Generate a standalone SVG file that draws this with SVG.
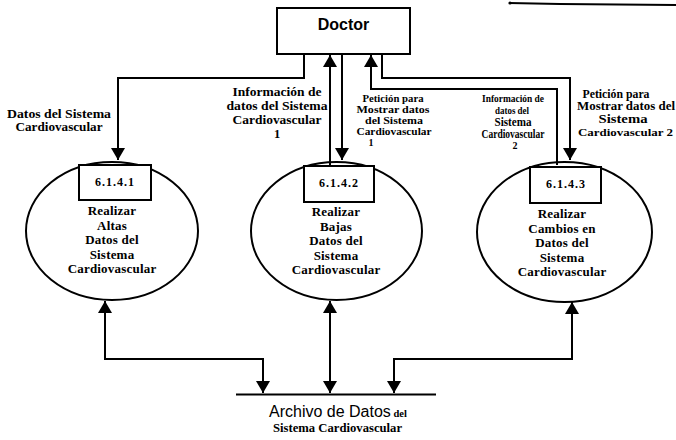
<svg xmlns="http://www.w3.org/2000/svg" width="676" height="440" viewBox="0 0 676 440">
  <style>
    .line { fill: none; stroke: #000; stroke-width: 2; }
    .shape { fill: none; stroke: #000; stroke-width: 2; }
    .box { fill: #fff; stroke: #000; stroke-width: 2; }
    .t { font-family: "Liberation Serif", "Times New Roman", serif; font-weight: bold; text-anchor: middle; fill: #000; }
    .proc { font-size: 13px; letter-spacing: 0.2px; }
    .num { font-size: 12px; letter-spacing: 1px; }
    .flow { font-size: 12.5px; }
    .small { font-size: 10px; }
  </style>
  <defs>
    <marker id="arrow" viewBox="0 0 12 14" refX="12" refY="7" markerWidth="12" markerHeight="14" markerUnits="userSpaceOnUse" orient="auto-start-reverse">
      <path d="M0,0 L12,7 L0,14 z" fill="#000"/>
    </marker>
  </defs>

  <rect width="676" height="440" fill="#fff"/>

  <!-- stray line at the top right edge -->
  <path d="M509,3 L560,4 L676,5" stroke="#000" stroke-width="2.2" fill="none"/>
  <circle cx="510" cy="3" r="1.6" fill="#000"/>

  <!-- external entity -->
  <g id="doctor">
    <rect class="box" x="277" y="8" width="133" height="46"/>
    <text x="343.5" y="30" font-family="Liberation Sans, Arial, sans-serif" font-weight="bold" font-size="16" text-anchor="middle">Doctor</text>
  </g>

  <!-- processes -->
  <g id="p6141">
    <ellipse class="shape" cx="112" cy="231" rx="86" ry="69"/>
    <rect class="box" x="79" y="165" width="72" height="35"/>
    <text class="t num" x="115" y="186">6.1.4.1</text>
    <text class="t proc" x="112" y="215">Realizar</text>
    <text class="t proc" x="112" y="229.5">Altas</text>
    <text class="t proc" x="112" y="244">Datos del</text>
    <text class="t proc" x="112" y="258.5">Sistema</text>
    <text class="t proc" x="112" y="273">Cardiovascular</text>
  </g>

  <g id="p6142">
    <ellipse class="shape" cx="336.5" cy="231" rx="85.5" ry="69"/>
    <rect class="box" x="304" y="166" width="70" height="36"/>
    <text class="t num" x="339" y="187">6.1.4.2</text>
    <text class="t proc" x="336" y="216">Realizar</text>
    <text class="t proc" x="336" y="230.5">Bajas</text>
    <text class="t proc" x="336" y="245">Datos del</text>
    <text class="t proc" x="336" y="259.5">Sistema</text>
    <text class="t proc" x="336" y="274">Cardiovascular</text>
  </g>

  <g id="p6143">
    <ellipse class="shape" cx="564.5" cy="232" rx="87.5" ry="70"/>
    <rect class="box" x="530" y="167" width="71" height="36"/>
    <text class="t num" x="566" y="188">6.1.4.3</text>
    <text class="t proc" x="562" y="218">Realizar</text>
    <text class="t proc" x="562" y="232.5">Cambios en</text>
    <text class="t proc" x="562" y="247">Datos del</text>
    <text class="t proc" x="562" y="261.5">Sistema</text>
    <text class="t proc" x="562" y="276">Cardiovascular</text>
  </g>

  <!-- data store -->
  <g id="store">
    <line class="line" x1="236" y1="394.5" x2="436" y2="394.5"/>
    <text x="269" y="417" font-family="Liberation Sans, Arial, sans-serif" font-size="16" fill="#000">Archivo de Datos<tspan font-family="Liberation Serif, serif" font-weight="bold" font-size="10.5"> del</tspan></text>
    <text class="t" x="337.5" y="432" font-size="12" textLength="129" lengthAdjust="spacingAndGlyphs">Sistema Cardiovascular</text>
  </g>

  <!-- data flows -->
  <g id="connectors">
    <polyline class="line" points="304,54 304,78 118,78 118,160" marker-end="url(#arrow)"/>
    <line class="line" x1="330" y1="165" x2="330" y2="55" marker-end="url(#arrow)"/>
    <line class="line" x1="342" y1="54" x2="342" y2="160" marker-end="url(#arrow)"/>
    <polyline class="line" points="557,165 557,89 371,89 371,55" marker-end="url(#arrow)"/>
    <polyline class="line" points="382,54 382,78 570,78 570,160" marker-end="url(#arrow)"/>

    <polyline class="line" points="263,393 263,359 105,359 105,301" marker-start="url(#arrow)" marker-end="url(#arrow)"/>
    <line class="line" x1="330" y1="301" x2="330" y2="393" marker-start="url(#arrow)" marker-end="url(#arrow)"/>
    <polyline class="line" points="394,393 394,359 572,359 572,302" marker-start="url(#arrow)" marker-end="url(#arrow)"/>
  </g>

  <!-- flow labels -->
  <g id="labels">
    <text class="t flow" x="59" y="118" textLength="104" lengthAdjust="spacingAndGlyphs">Datos del Sistema</text>
    <text class="t flow" x="59" y="131" textLength="87" lengthAdjust="spacingAndGlyphs">Cardiovascular</text>

    <text class="t flow" x="277" y="96" textLength="89" lengthAdjust="spacingAndGlyphs">Información de</text>
    <text class="t flow" x="277" y="110" textLength="101" lengthAdjust="spacingAndGlyphs">datos del Sistema</text>
    <text class="t flow" x="277" y="124" textLength="89" lengthAdjust="spacingAndGlyphs">Cardiovascular</text>
    <text class="t flow" x="277" y="138">1</text>

    <text class="t small" x="393" y="102" textLength="61" lengthAdjust="spacingAndGlyphs">Petición para</text>
    <text class="t small" x="393" y="113" textLength="73" lengthAdjust="spacingAndGlyphs">Mostrar datos</text>
    <text class="t small" x="394" y="124" textLength="58" lengthAdjust="spacingAndGlyphs">del Sistema</text>
    <text class="t small" x="394" y="135" textLength="75" lengthAdjust="spacingAndGlyphs">Cardiovascular</text>
    <text class="t small" x="371" y="146">1</text>

    <text class="t small" x="513" y="102" textLength="62" lengthAdjust="spacingAndGlyphs">Información de</text>
    <text class="t small" x="512" y="114" textLength="34" lengthAdjust="spacingAndGlyphs">datos del</text>
    <text class="t" font-size="11.5" x="513" y="126" textLength="37" lengthAdjust="spacingAndGlyphs">Sistema</text>
    <text class="t" font-size="11.5" x="513" y="138" textLength="63" lengthAdjust="spacingAndGlyphs">Cardiovascular</text>
    <text class="t small" x="515" y="149">2</text>

    <text class="t" font-size="11.5" x="616" y="98" textLength="67" lengthAdjust="spacingAndGlyphs">Petición para</text>
    <text class="t" font-size="11.5" x="626" y="110" textLength="98" lengthAdjust="spacingAndGlyphs">Mostrar datos del</text>
    <text class="t" font-size="11.5" x="623" y="122.5" textLength="49" lengthAdjust="spacingAndGlyphs">Sistema</text>
    <text class="t" font-size="10.5" x="625.5" y="135.5" textLength="95" lengthAdjust="spacingAndGlyphs">Cardiovascular 2</text>
  </g>
</svg>
